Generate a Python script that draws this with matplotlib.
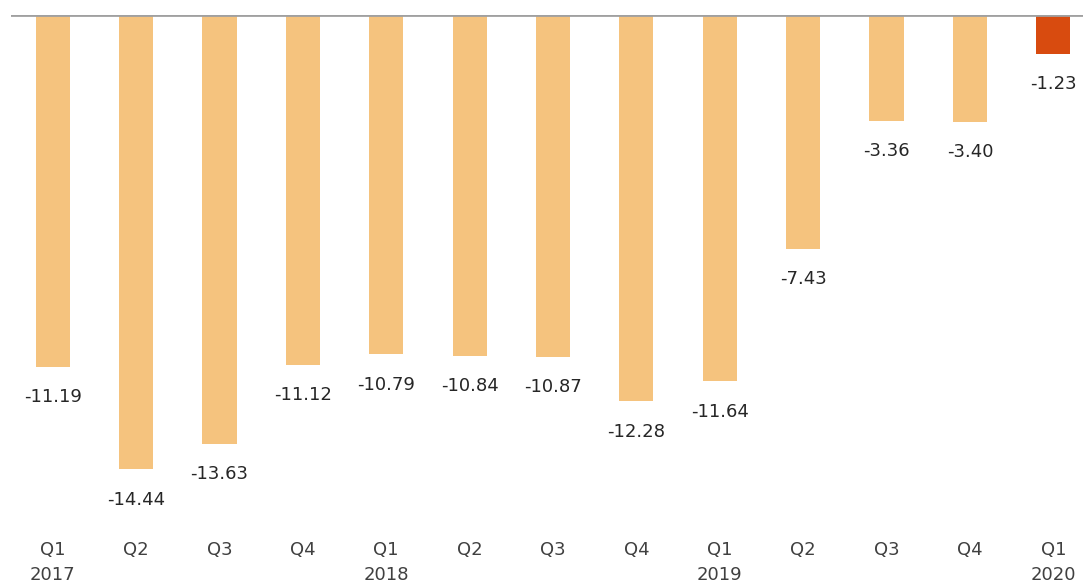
import numpy as np
import matplotlib.pyplot as plt

quarters = ['Q1', 'Q2', 'Q3', 'Q4', 'Q1', 'Q2', 'Q3', 'Q4', 'Q1', 'Q2', 'Q3', 'Q4', 'Q1']
years = ['2017', '', '', '', '2018', '', '', '', '2019', '', '', '', '2020']
values = [-11.19, -14.44, -13.63, -11.12, -10.79, -10.84, -10.87, -12.28, -11.64, -7.43, -3.36, -3.40, -1.23]

light = '#F5C37E'
dark = '#D84B0F'
colores = [light] * (len(values) - 1) + [dark]

W, H = 1083, 587
fig = plt.figure(figsize=(W / 100, H / 100), dpi=100)
# eje: izquierda 11 px, cero en y=15 px, base en y=530 px
top_px, bot_px = 15, 530
ax = fig.add_axes([11 / W, 1 - bot_px / H, 1084 / W, (bot_px - top_px) / H])

x = np.arange(len(values))
ax.bar(x, values, width=0.41, color=colores, zorder=2)
ax.axhline(0, color='#A0A0A0', linewidth=2.0, zorder=3)

escala = 31.44  # px por unidad
ax.set_ylim(-(bot_px - top_px) / escala, 0)
ax.set_xlim(-0.5, len(values) - 0.5)

for xi, v in zip(x, values):
    ax.annotate(f'{v:.2f}', (xi, v), xytext=(0, -22), textcoords='offset points',
                ha='center', va='center', fontsize=13, color='#262626')

etiquetas = [q + '\n' + y if y else q for q, y in zip(quarters, years)]
ax.set_xticks(x)
ax.set_xticklabels(etiquetas, fontsize=13, color='#404040', linespacing=1.5, va='top')
ax.tick_params(axis='x', length=0, pad=8)
ax.set_yticks([])
for s in ax.spines.values():
    s.set_visible(False)

fig.savefig('out.png', dpi=100)
